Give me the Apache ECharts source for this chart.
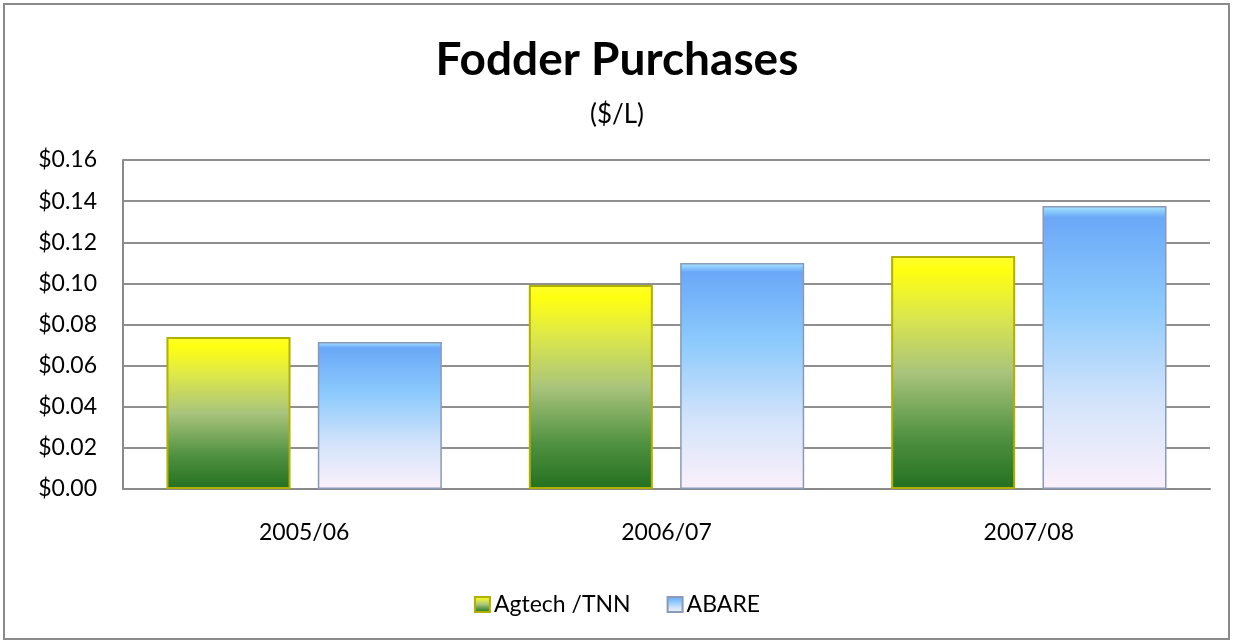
<!DOCTYPE html>
<html><head><meta charset="utf-8">
<script src="https://cdn.jsdelivr.net/npm/echarts@6/dist/echarts.min.js"></script>
<style>html,body{margin:0;padding:0;background:#fff}#c{width:1234px;height:644px}</style>
</head><body><div id="c"></div>
<script>
const categories = ['2005/06', '2006/07', '2007/08'];
const seriesNames = ['Agtech /TNN', 'ABARE'];
const agtechValues = [0.0739, 0.0992, 0.1133];
const abareValues = [0.0715, 0.1099, 0.1376];
const yTicks = [0, 0.02, 0.04, 0.06, 0.08, 0.10, 0.12, 0.14, 0.16];

const font = 'Lato, "Open Sans", sans-serif';
const grad = (stops) => new echarts.graphic.LinearGradient(0, 0, 0, 1, stops);
const greenGrad = grad([
  {offset: 0, color: '#ffff30'}, {offset: 0.06, color: '#ffff10'},
  {offset: 0.25, color: '#dde84a'}, {offset: 0.5, color: '#a9c47c'},
  {offset: 0.78, color: '#4f9140'}, {offset: 1, color: '#237020'}]);
const blueGrad = grad([
  {offset: 0, color: '#a8e8ff'}, {offset: 0.04, color: '#6aa8f8'},
  {offset: 0.35, color: '#8ccafd'}, {offset: 0.7, color: '#d4e4fa'},
  {offset: 1, color: '#fbf0fb'}]);

const chart = echarts.init(document.getElementById('c'), null, {renderer: 'canvas'});
chart.setOption({
  animation: false,
  backgroundColor: '#fff',
  graphic: [{type: 'rect', shape: {x: 4, y: 4, width: 1225, height: 635},
    style: {fill: 'none', stroke: '#8a8a8a', lineWidth: 2}, silent: true}],
  title: [
    {text: 'Fodder Purchases', left: 'center', top: 32,
     textStyle: {fontFamily: font, fontWeight: 'bold', fontSize: 46, color: '#000'}},
    {text: '($/L)', left: 'center', top: 97,
     textStyle: {fontFamily: font, fontWeight: 'normal', fontSize: 26, color: '#000'}}
  ],
  legend: {
    data: seriesNames, bottom: 23, left: 'center', itemWidth: 15, itemHeight: 15,
    itemGap: 36, icon: 'rect',
    textStyle: {fontFamily: font, fontSize: 23, color: '#000', padding: [0, 0, 0, -1]}
  },
  grid: {left: 123, right: 24, top: 160, bottom: 155, containLabel: false},
  xAxis: {
    type: 'category', data: categories,
    axisLine: {lineStyle: {color: '#8a8a8a', width: 2}},
    axisTick: {show: false},
    axisLabel: {fontFamily: font, fontSize: 23, color: '#000', margin: 32}
  },
  yAxis: {
    type: 'value', min: 0, max: 0.16, interval: 0.02,
    axisLine: {show: true, lineStyle: {color: '#8a8a8a', width: 2}},
    axisTick: {show: false},
    splitLine: {lineStyle: {color: '#8f8f8f', width: 2}},
    axisLabel: {fontFamily: font, fontSize: 23, color: '#000', margin: 26,
      formatter: v => '$' + v.toFixed(2)}
  },
  series: [
    {name: seriesNames[0], type: 'bar', data: agtechValues, barGap: '22%', barCategoryGap: '24%',
     itemStyle: {color: greenGrad, borderColor: '#b0b000', borderWidth: 2}},
    {name: seriesNames[1], type: 'bar', data: abareValues,
     itemStyle: {color: blueGrad, borderColor: '#8a9ab8', borderWidth: 1.5}}
  ]
});
</script></body></html>
